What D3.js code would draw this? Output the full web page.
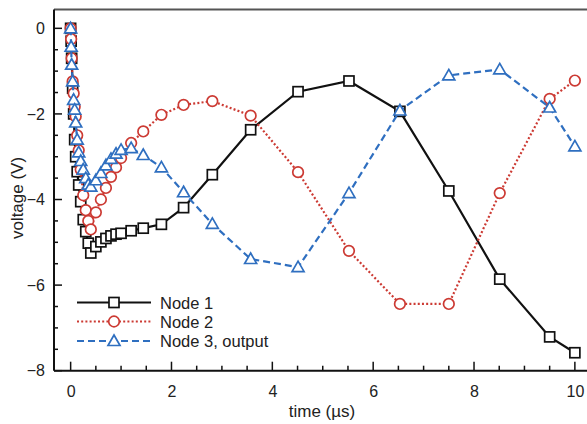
<!DOCTYPE html>
<html>
<head>
<meta charset="utf-8">
<script src="https://cdn.jsdelivr.net/npm/d3@7"></script>
<style>
  body { margin: 0; background: #fff; }
  text { font-family: "Liberation Sans", Arial, sans-serif; fill: #222; }
</style>
</head>
<body>
<svg id="chart" width="587" height="424"></svg>
<script>
// time samples (µs), shared by all three nodes
const times = [0, 0.01, 0.02, 0.04, 0.06, 0.08, 0.1, 0.13, 0.16, 0.2, 0.25, 0.3, 0.35, 0.4,
  0.5, 0.6, 0.7, 0.8, 0.9, 1.0, 1.2, 1.44, 1.8, 2.24, 2.81, 3.57, 4.51, 5.52, 6.53, 7.5, 8.51, 9.5, 10];

const node1 = [0, -0.3, -0.7, -1.4, -2.0, -2.6, -3.0, -3.35, -3.66, -4.05, -4.47, -4.75, -5.02, -5.25,
  -5.1, -4.99, -4.91, -4.85, -4.81, -4.79, -4.73, -4.67, -4.58, -4.19, -3.42, -2.37, -1.48, -1.23, -1.94, -3.8, -5.86, -7.21, -7.58];

const node2 = [0, -0.25, -0.7, -1.24, -1.52, -1.83, -2.06, -2.5, -2.85, -3.3, -3.9, -4.25, -4.5, -4.7,
  -4.3, -4.0, -3.73, -3.47, -3.25, -3.03, -2.68, -2.41, -2.02, -1.79, -1.7, -2.04, -3.36, -5.2, -6.44, -6.44, -3.85, -1.65, -1.22];

const node3 = [0, -0.43, -0.85, -1.24, -1.67, -1.9, -2.2, -2.6, -2.9, -3.1, -3.3, -3.5, -3.65, -3.7,
  -3.55, -3.38, -3.2, -3.05, -2.93, -2.84, -2.8, -2.96, -3.25, -3.83, -4.57, -5.39, -5.58, -3.85, -1.92, -1.1, -0.96, -1.85, -2.76];

const seriesNames = ["Node 1", "Node 2", "Node 3, output"];
const xTicks = [0, 2, 4, 6, 8, 10];
const yTicks = [0, -2, -4, -6, -8];

const drawChart = ()=>{
    let svg = d3.select("#chart");

    let frame = { left: 54, right: 590, top: 9.5, bottom: 370.7 };

    let xScale = d3.scaleLinear().domain([-0.33, 10.3]).range([frame.left, frame.right]);
    let yScale = d3.scaleLinear().domain([-8, 0.44]).range([frame.bottom, frame.top]);

    let styles = [
        { color: "#111", dash: null, marker: "square" },
        { color: "#cc3a33", dash: "2,2.2", marker: "circle" },
        { color: "#2f6fc0", dash: "7,4", marker: "triangle" }
    ];

    // frame: top line, then axes
    svg.append("line")
    .attr("x1", frame.left).attr("x2", frame.right)
    .attr("y1", frame.top).attr("y2", frame.top)
    .attr("stroke", "#555").attr("stroke-width", 2);

    let minorX = d3.range(0, 10.01, 0.5).filter((d)=>d % 2 != 0);
    let minorY = d3.range(-8, 0.01, 0.5).filter((d)=>d % 2 != 0);

    let xAxis = d3.axisBottom(xScale).tickValues(xTicks).tickSize(0).tickPadding(15).tickFormat(d3.format("d"));
    let yAxis = d3.axisLeft(yScale).tickValues(yTicks).tickSize(0).tickPadding(9).tickFormat(d3.format("d"));

    let gx = svg.append("g")
    .attr("class", "x axis")
    .attr("transform", "translate(0," + frame.bottom + ")")
    .call(xAxis);

    let gy = svg.append("g")
    .attr("class", "y axis")
    .attr("transform", "translate(" + frame.left + ",0)")
    .call(yAxis);

    [gx, gy].forEach((g)=>{
        g.select(".domain").remove();
        g.selectAll("text").attr("font-size", "16px").attr("fill", "#222");
    });

    // inward ticks
    let tickG = svg.append("g").attr("stroke", "#111").attr("stroke-width", 1.5);
    xTicks.forEach((d)=>{
        tickG.append("line").attr("x1", xScale(d)).attr("x2", xScale(d))
        .attr("y1", frame.bottom).attr("y2", frame.bottom - 9);
    });
    minorX.forEach((d)=>{
        tickG.append("line").attr("x1", xScale(d)).attr("x2", xScale(d))
        .attr("y1", frame.bottom).attr("y2", frame.bottom - 5);
    });
    yTicks.forEach((d)=>{
        tickG.append("line").attr("x1", frame.left).attr("x2", frame.left + 8)
        .attr("y1", yScale(d)).attr("y2", yScale(d));
    });
    minorY.forEach((d)=>{
        tickG.append("line").attr("x1", frame.left).attr("x2", frame.left + 4)
        .attr("y1", yScale(d)).attr("y2", yScale(d));
    });

    svg.append("line")
    .attr("x1", frame.left).attr("x2", frame.right)
    .attr("y1", frame.bottom).attr("y2", frame.bottom)
    .attr("stroke", "#111").attr("stroke-width", 2);
    svg.append("line")
    .attr("x1", frame.left).attr("x2", frame.left)
    .attr("y1", frame.top).attr("y2", frame.bottom)
    .attr("stroke", "#111").attr("stroke-width", 2);

    // axis titles
    svg.append("text")
    .attr("x", 322).attr("y", 417)
    .attr("text-anchor", "middle")
    .attr("font-size", "17px")
    .text("time (µs)");

    svg.append("text")
    .attr("transform", "translate(23,198) rotate(-90)")
    .attr("text-anchor", "middle")
    .attr("font-size", "17px")
    .text("voltage (V)");

    const drawMarker = (g, type, x, y, color)=>{
        let m;
        if (type == "square") {
            m = g.append("rect").attr("x", x - 5).attr("y", y - 5).attr("width", 10).attr("height", 10);
        } else if (type == "circle") {
            m = g.append("circle").attr("cx", x).attr("cy", y).attr("r", 5.3);
        } else {
            let s = 6;
            m = g.append("path")
            .attr("d", "M" + x + "," + (y - s) + "L" + (x + s) + "," + (y + s * 0.75) + "L" + (x - s) + "," + (y + s * 0.75) + "Z");
        }
        m.attr("fill", "#fff").attr("stroke", color).attr("stroke-width", 1.7);
    }

    let line = d3.line()
    .x((d)=>xScale(d[0]))
    .y((d)=>yScale(d[1]));

    [node1, node2, node3].forEach((values, i)=>{
        let st = styles[i];
        let data = values.map((v, j)=>[times[j], v]);
        let g = svg.append("g");
        g.append("path")
        .datum(data)
        .attr("d", line)
        .attr("fill", "none")
        .attr("stroke", st.color)
        .attr("stroke-width", 2.2)
        .attr("stroke-dasharray", st.dash);
        data.forEach((d)=>drawMarker(g, st.marker, xScale(d[0]), yScale(d[1]), st.color));
    });

    // legend
    let legendY = [302.5, 321.5, 341];
    seriesNames.forEach((name, i)=>{
        let st = styles[i];
        let g = svg.append("g");
        g.append("line")
        .attr("x1", 77).attr("x2", 151)
        .attr("y1", legendY[i]).attr("y2", legendY[i])
        .attr("stroke", st.color).attr("stroke-width", 2.2)
        .attr("stroke-dasharray", st.dash);
        drawMarker(g, st.marker, 114, legendY[i], st.color);
        g.append("text")
        .attr("x", 160).attr("y", legendY[i] + 6)
        .attr("font-size", "16.5px")
        .text(name);
    });
}

window.onload = function(){
    drawChart();
}
</script>
</body>
</html>
